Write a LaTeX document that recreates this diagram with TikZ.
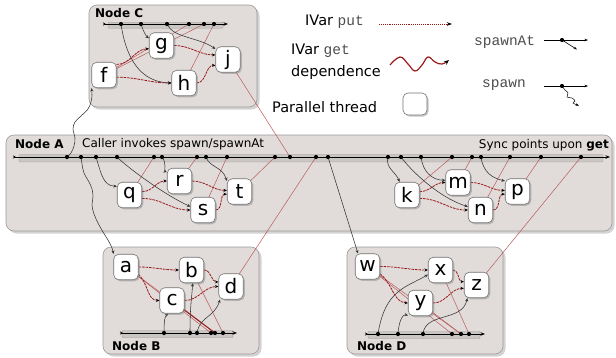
\documentclass[tikz,border=0pt]{standalone}
\usepackage{fontspec}
\setmainfont{DejaVu Sans}
\setmonofont{Liberation Mono}
\usetikzlibrary{arrows.meta,shadows}
\definecolor{boxfill}{HTML}{E1DCDA}
\definecolor{boxdraw}{HTML}{9C9898}
\definecolor{getred}{HTML}{9A1A1A}
\definecolor{putred}{HTML}{B85A5A}
\definecolor{barfill}{HTML}{CAC6C4}
\definecolor{bardraw}{HTML}{A09C9A}
\pgfdeclarelayer{bg}
\pgfdeclarelayer{mid}
\pgfsetlayers{bg,mid,main}
\newcommand\monotxt[1]{{\ttfamily\color{black!70}#1}}
\tikzset{
  bigbox/.style={draw=boxdraw, fill=boxfill, rounded corners=8pt, line width=0.6pt, inner sep=0pt,
    drop shadow={shadow xshift=2.5pt, shadow yshift=-2.5pt, opacity=0.35}},
  barbox/.style={draw=bardraw, fill=barfill, rounded corners=1pt, line width=0.4pt, inner sep=0pt},
  task/.style={draw=black!55, fill=white, rounded corners=5pt, line width=0.6pt, inner sep=0pt,
    minimum width=24.5pt, minimum height=25.5pt, font=\fontsize{20}{20}\selectfont,
    drop shadow={shadow xshift=1.5pt, shadow yshift=-1.5pt, opacity=0.45}},
  tdot/.style={circle, fill=black, inner sep=0pt, minimum size=4.2pt},
  titletext/.style={font=\fontsize{12}{12}\selectfont\bfseries, inner sep=0pt},
  captext/.style={font=\fontsize{12}{12}\selectfont, inner sep=0pt},
  legtext/.style={font=\fontsize{14.5}{14.5}\selectfont, inner sep=0pt},
  monotext/.style={font=\fontsize{14.5}{14.5}\selectfont\ttfamily, text=black!70, inner sep=0pt},
  timeline/.style={draw=black, line width=0.8pt, {Stealth[length=3pt,width=3pt,reversed]}-{Stealth[length=4.5pt,width=3.5pt]}},
  spawnarr/.style={draw=black!80, line width=0.55pt, -{Stealth[length=3.5pt,width=3pt]}},
  getarr/.style={draw=getred, line width=0.8pt, dash pattern=on 2.6pt off 0.9pt, -{Stealth[length=3.5pt,width=3pt,color=black]}},
  putline/.style={draw=putred, line width=0.5pt},
  legline/.style={draw=black, line width=0.6pt, -{Stealth[length=3.5pt,width=2.6pt]}}
}
\begin{document}
\begin{tikzpicture}[x=1pt,y=-1pt]
\useasboundingbox (0,0) rectangle (616,357);

% ---------- containers ----------
\begin{pgfonlayer}{bg}
\node[bigbox, minimum width=168pt, minimum height=102pt] (boxC) at (173,56) {};
\node[bigbox, minimum width=606pt, minimum height=96pt] (boxA) at (309,183) {};
\node[bigbox, minimum width=156pt, minimum height=107pt] (boxB) at (181,300.5) {};
\node[bigbox, minimum width=156pt, minimum height=107pt] (boxD) at (425,300.5) {};
\node[barbox, minimum width=115pt, minimum height=6pt] (barC) at (165.5,25.2) {};
\node[barbox, minimum width=584pt, minimum height=7.5pt] (barA) at (311,158.2) {};
\node[barbox, minimum width=111pt, minimum height=7pt] (barB) at (177.5,334) {};
\node[barbox, minimum width=112pt, minimum height=7pt] (barD) at (424,335) {};
\end{pgfonlayer}

% ---------- titles ----------
\node[titletext, anchor=west] (tiC) at (95,13) {Node C};
\node[titletext, anchor=west] (tiA) at (15,144) {Node A};
\node[titletext, anchor=west] (tiB) at (112,346) {Node B};
\node[titletext, anchor=west] (tiD) at (357,346) {Node D};
\node[captext, anchor=west] (capL) at (82,144.5) {Caller invokes spawn/spawnAt};
\node[captext, anchor=east] (capR) at (609,145) {Sync points upon \textbf{get}};

% ---------- timeline end points ----------
\coordinate (tlCs) at (103,24); \coordinate (tlCe) at (228,24);
\coordinate (tlAs) at (13,157); \coordinate (tlAe) at (610,157);
\coordinate (tlBs) at (120,333); \coordinate (tlBe) at (237,333);
\coordinate (tlDs) at (365,334); \coordinate (tlDe) at (485,334);

% ---------- tasks ----------
\node[task] (tf) at (104,75) {f};
\node[task] (tg) at (161.5,45.5) {g};
\node[task] (th) at (184,83) {h};
\node[task] (tj) at (228,59.5) {j};
\node[task] (tq) at (129.5,195) {q};
\node[task] (tr) at (179.5,181) {r};
\node[task] (ts) at (203,210) {s};
\node[task] (tt) at (239.5,191.5) {t};
\node[task] (tk) at (407,195) {k};
\node[task] (tm) at (458,182.5) {m};
\node[task] (tn) at (480.5,210) {n};
\node[task] (tp) at (517.5,191.5) {p};
\node[task] (ta) at (126,267) {a};
\node[task] (tb) at (191.5,270) {b};
\node[task] (tc) at (172,300.5) {c};
\node[task] (td) at (231,286.5) {d};
\node[task] (tw) at (367.5,266.5) {w};
\node[task] (tx) at (440.5,270) {x};
\node[task] (ty) at (420.5,303) {y};
\node[task] (tz) at (476.5,285) {z};

% ---------- dots ----------
\foreach \xx in {121,141,167,189,204,214} {\node[tdot] (dC\xx) at (\xx,24) {};}
\foreach \xx in {67,81,96,117,154,162,197,206,227,275,290,316,328,388,401,421,452,472,481,510,541,581} {\node[tdot] (dA\xx) at (\xx,157) {};}
\foreach \xx in {164,190,197,211,215,223} {\node[tdot] (dB\xx) at (\xx,333) {};}
\foreach \xx in {378,398,423,452,461,469} {\node[tdot] (dD\xx) at (\xx,334) {};}

% ---------- connectors ----------
\begin{pgfonlayer}{mid}
\draw[timeline] (tlCs) -- (tlCe);
\draw[timeline] (tlAs) -- (tlAe);
\draw[timeline] (tlBs) -- (tlBe);
\draw[timeline] (tlDs) -- (tlDe);

% IVar puts
\draw[putline] (tf.center) -- (dC189.center);
\draw[putline] (tf.center) -- (dC204.center);
\draw[putline] (th.center) -- (dC214.center);
\draw[putline] (tj.center) -- (dA290.center);
\draw[putline] (tq.center) -- (dA154.center);
\draw[putline] (tr.center) -- (dA197.center);
\draw[putline] (ts.center) -- (dA227.center);
\draw[putline] (tt.center) -- (dA275.center);
\draw[putline] (tk.center) -- (dA452.center);
\draw[putline] (tm.center) -- (dA472.center);
\draw[putline] (tn.center) -- (dA510.center);
\draw[putline] (tp.center) -- (dA541.center);
\draw[putline] (ta.center) -- (dB211.center);
\draw[putline] (ta.center) -- (dB215.center);
\draw[putline, line width=1pt, draw=getred] (tc.center) -- (dB215.center);
\draw[putline] (tb.center) -- (dB223.center);
\draw[putline] (td.center) -- (dA316.center);
\draw[putline] (tw.center) -- (dD452.center);
\draw[putline] (tw.center) -- (dD461.center);
\draw[putline] (ty.center) -- (dD461.center);
\draw[putline] (tx.center) -- (dD469.center);
\draw[putline] (tz.center) -- (dA581.center);

% spawns
\draw[spawnarr] plot[smooth, tension=0.6] coordinates {(dA67.center) (71,153) (74,146) (75,138) (73,129) (75,122) (81,116) (88,109) (91,102) (92,95) (tf.south west)};
\draw[spawnarr] plot[smooth, tension=0.6] coordinates {(dA81.center) (82,164) (84,173) (89,182) (92,189) (93,197) (92,205) (94,214) (98,223) (103,232) (108,240) (112,248) (ta.north west)};
\draw[spawnarr] (dA328.center) -- ([xshift=3pt]tw.north west);
\draw[spawnarr] (dC121.center) .. controls (126,58) and (140,82) .. (th.west);
\draw[spawnarr] (dC141.center) .. controls (143,31) and (146,36) .. (tg.150);
\draw[spawnarr] (dC167.center) .. controls (173,38) and (198,37) .. (tj.140);
\draw[spawnarr] (dA96.center) .. controls (101,173) and (103,186) .. (tq.145);
\draw[spawnarr] (dA117.center) .. controls (128,168) and (165,195) .. (ts.165);
\draw[spawnarr] (dA162.center) .. controls (167,163) and (164,171) .. (tr.145);
\draw[spawnarr] (dA206.center) .. controls (210,168) and (222,166) .. (tt.140);
\draw[spawnarr] (dA388.center) .. controls (385,168) and (396,172) .. (tk.120);
\draw[spawnarr] (dA401.center) .. controls (412,172) and (440,198) .. (tn.165);
\draw[spawnarr] (dA421.center) .. controls (423,172) and (432,180) .. (tm.170);
\draw[spawnarr] (dA481.center) .. controls (483,172) and (492,178) .. (tp.140);
\draw[spawnarr] (dB164.center) .. controls (164,320) and (165,316) .. (tc.255);
\draw[spawnarr] (dB190.center) .. controls (190,305) and (192,296) .. (tb.275);
\draw[spawnarr] (dB197.center) .. controls (200,316) and (214,318) .. (td.230);
\draw[spawnarr] (dD378.center) .. controls (385,290) and (405,288) .. (tx.200);
\draw[spawnarr] (dD398.center) .. controls (399,318) and (404,314) .. (ty.225);
\draw[spawnarr] (dD423.center) .. controls (425,312) and (462,322) .. (tz.235);

% IVar gets
\draw[getarr] (tf.40) to[out=0,in=180] (tg.195);
\draw[getarr] (tf.-10) to[out=0,in=180] (th.west);
\draw[getarr] (tg.east) to[out=0,in=180] (tj.160);
\draw[getarr] (th.east) to[out=0,in=180] (tj.205);
\draw[getarr] (tq.15) to[out=0,in=180] (tr.west);
\draw[getarr] (tq.-15) to[out=0,in=180] (ts.west);
\draw[getarr] (tr.east) to[out=0,in=180] (tt.175);
\draw[getarr] (ts.east) to[out=0,in=180] (tt.192);
\draw[getarr] (tk.15) to[out=0,in=180] (tm.west);
\draw[getarr] (tk.-15) to[out=0,in=180] (tn.west);
\draw[getarr] (tm.east) to[out=0,in=180] (tp.175);
\draw[getarr] (tn.east) to[out=0,in=180] (tp.192);
\draw[getarr] (ta.east) to[out=0,in=180] (tb.west);
\draw[getarr] (ta.-30) .. controls (149,285) and (147,300) .. (tc.west);
\draw[getarr] (tb.east) to[out=0,in=180] (td.160);
\draw[getarr] (tc.east) to[out=0,in=180] (td.west);
\draw[getarr] (tw.east) to[out=0,in=180] (tx.west);
\draw[getarr] (tw.-30) .. controls (393,284) and (393,302) .. (ty.west);
\draw[getarr] (tx.east) to[out=0,in=180] (tz.165);
\draw[getarr] (ty.east) to[out=0,in=180] (tz.195);
\end{pgfonlayer}

% ---------- legend ----------
\node[legtext, anchor=west] (lput) at (305,22) {IVar \monotxt{put}};
\coordinate (lputs) at (379,24); \coordinate (lpute) at (452,24);
\draw[draw=getred, line width=0.9pt, densely dotted, -{Stealth[length=5pt,width=3.5pt,color=black]}] (lputs) -- (lpute);
\node[legtext, anchor=west] (lget) at (291,51) {IVar \monotxt{get}};
\node[legtext, anchor=west] (ldep) at (291,72) {dependence};
\draw[draw=getred, line width=1.2pt, -{Stealth[length=5pt,width=4pt,color=black]}] plot[smooth, tension=0.7] coordinates {(390,65) (400,57) (408,64) (415,71) (422,65) (428,57) (435,62) (442,64) (449,60)};
\node[legtext, anchor=west] (lpar) at (272,107) {Parallel thread};
\node[task, minimum width=24pt, minimum height=22pt] (lbox) at (415,104) {};
\node[monotext, anchor=west] (lsa) at (474,42) {spawnAt};
\coordinate (sa1) at (544,40); \coordinate (sa2) at (588,40); \coordinate (sa3) at (577,49.5);
\node[tdot] (sadot) at (562,40) {};
\draw[legline] (sa1) -- (sa2);
\draw[legline] (sadot.center) -- (sa3);
\node[monotext, anchor=west] (lsp) at (482,85) {spawn};
\coordinate (sp1) at (544,86); \coordinate (sp2) at (588,86);
\node[tdot] (spdot) at (562,86) {};
\draw[legline] (sp1) -- (sp2);
\draw[legline, line width=0.5pt] plot[smooth, tension=0.7] coordinates {(spdot.center) (565,90) (568,93) (567,97) (572,98) (575,101) (573,103) (579,105.5)};
\end{tikzpicture}
\end{document}
